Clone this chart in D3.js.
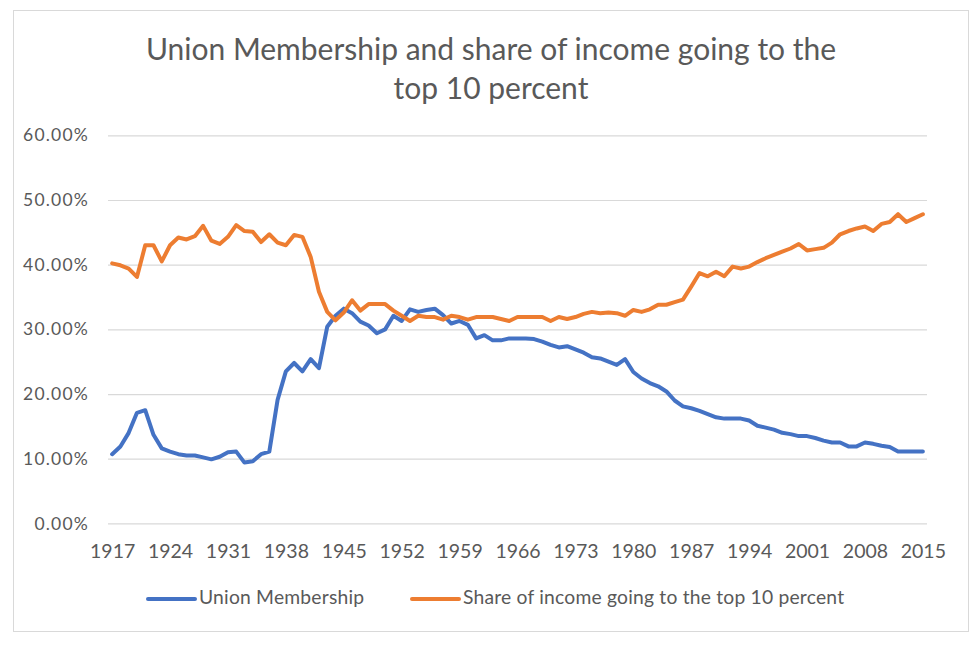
<!DOCTYPE html>
<html>
<head>
<meta charset="utf-8">
<script src="https://cdn.jsdelivr.net/npm/d3@7"></script>
<style>
  body { margin: 0; background: #fff; }
  text { font-family: Lato, "Open Sans", sans-serif; }
</style>
</head>
<body>
<svg id="chart" width="980" height="645"></svg>
<script>
// years 1917..2015
const years = d3.range(1917, 2016);

const unionMembership = [
  10.7, 11.9, 14.0, 17.1, 17.5, 13.7, 11.6, 11.1, 10.7, 10.5,
  10.5, 10.2, 9.9, 10.3, 11.0, 11.1, 9.4, 9.6, 10.7, 11.1,
  19.1, 23.5, 24.8, 23.5, 25.4, 24.0, 30.4, 32.1, 33.2, 32.5,
  31.2, 30.6, 29.4, 30.0, 32.1, 31.3, 33.1, 32.7, 33.0, 33.2,
  32.2, 30.9, 31.3, 30.7, 28.6, 29.1, 28.3, 28.3, 28.6, 28.6,
  28.6, 28.5, 28.1, 27.6, 27.2, 27.4, 26.9, 26.4, 25.7, 25.5,
  25.0, 24.5, 25.4, 23.4, 22.4, 21.7, 21.2, 20.4, 19.0, 18.1,
  17.8, 17.4, 16.9, 16.4, 16.2, 16.2, 16.2, 15.9, 15.1, 14.8,
  14.5, 14.0, 13.8, 13.5, 13.5, 13.2, 12.8, 12.5, 12.5, 11.9,
  11.9, 12.5, 12.3, 12.0, 11.8, 11.1, 11.1, 11.1, 11.1
];

const topTenShare = [
  40.2, 39.9, 39.4, 38.1, 43.0, 43.0, 40.5, 43.0, 44.2, 43.9,
  44.4, 46.0, 43.7, 43.2, 44.3, 46.1, 45.2, 45.1, 43.5, 44.7,
  43.4, 43.0, 44.6, 44.3, 41.2, 35.8, 32.7, 31.4, 32.6, 34.5,
  32.9, 33.9, 33.9, 33.9, 32.9, 32.1, 31.3, 32.1, 31.9, 31.9,
  31.5, 32.1, 31.9, 31.5, 31.9, 31.9, 31.9, 31.6, 31.3, 31.9,
  31.9, 31.9, 31.9, 31.3, 31.9, 31.6, 31.9, 32.4, 32.7, 32.5,
  32.6, 32.5, 32.1, 33.0, 32.7, 33.1, 33.8, 33.8, 34.2, 34.6,
  36.6, 38.7, 38.2, 38.9, 38.2, 39.7, 39.4, 39.7, 40.4, 41.0,
  41.5, 42.0, 42.5, 43.2, 42.2, 42.4, 42.6, 43.4, 44.7, 45.2,
  45.6, 45.9, 45.2, 46.3, 46.6, 47.8, 46.6, 47.2, 47.8
];

const yTicks = [0, 10, 20, 30, 40, 50, 60];
const xTickYears = d3.range(1917, 2016, 7);
const titleLines = ["Union Membership and share of income going to the", "top 10 percent"];
const seriesNames = ["Union Membership", "Share of income going to the top 10 percent"];
const colors = ["#4472C4", "#ED7D31"];

const svg = d3.select("#chart");

// chart border
svg.append("rect")
  .attr("x", 13.5).attr("y", 10.5)
  .attr("width", 955).attr("height", 621)
  .attr("fill", "#fff").attr("stroke", "#d9d9d9");

// title
svg.append("g").selectAll("text")
  .data(titleLines)
  .join("text")
  .attr("x", 491)
  .attr("y", (d, i) => 60 + i * 38.5)
  .attr("text-anchor", "middle")
  .attr("font-size", 30)
  .attr("fill", "#595959")
  .text(d => d);

const x = d3.scalePoint().domain(years).range([108, 927]).padding(0.5);
const y = d3.scaleLinear().domain([0, 60]).range([523.4, 135.3]);

// gridlines + y labels
const yAxis = d3.axisLeft(y)
  .tickValues(yTicks)
  .tickSize(-(927 - 108))
  .tickPadding(19)
  .tickFormat(d => d.toFixed(2) + "%");

const gy = svg.append("g")
  .attr("transform", "translate(108,0)")
  .call(yAxis);
gy.select(".domain").remove();
gy.selectAll(".tick line").attr("stroke", "#d9d9d9").attr("stroke-width", 1.2);
gy.selectAll(".tick text")
  .attr("fill", "#595959").attr("font-size", 17.5)
  .attr("letter-spacing", 1.2);

// x labels
const xAxis = d3.axisBottom(x)
  .tickValues(xTickYears)
  .tickSize(0)
  .tickPadding(20.5);

const gx = svg.append("g")
  .attr("transform", `translate(0,${y(0)})`)
  .call(xAxis);
gx.select(".domain").remove();
gx.selectAll(".tick text")
  .attr("fill", "#595959").attr("font-size", 19.5);

// lines
const series = [unionMembership, topTenShare];
const line = d3.line()
  .x((d, i) => x(years[i]))
  .y(d => y(d));

svg.append("g").selectAll("path")
  .data(series)
  .join("path")
  .attr("d", d => line(d))
  .attr("fill", "none")
  .attr("stroke", (d, i) => colors[i])
  .attr("stroke-width", 4)
  .attr("stroke-linejoin", "round")
  .attr("stroke-linecap", "round");

// legend
const legendX = [148, 412];
const lg = svg.append("g").selectAll("g")
  .data(seriesNames)
  .join("g")
  .attr("transform", (d, i) => `translate(${legendX[i]},599)`);
lg.append("line")
  .attr("x1", 0).attr("x2", 47)
  .attr("stroke", (d, i) => colors[i])
  .attr("stroke-width", 4)
  .attr("stroke-linecap", "round");
lg.append("text")
  .attr("x", 51).attr("y", 5)
  .attr("font-size", 19.3)
  .attr("letter-spacing", 0.2)
  .attr("fill", "#595959")
  .text(d => d);
</script>
</body>
</html>
